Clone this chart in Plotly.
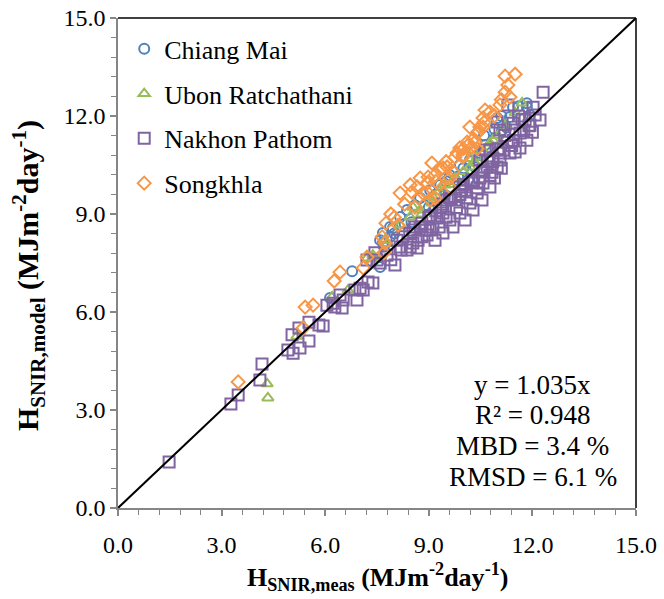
import plotly.graph_objects as go

# Measured vs. modelled daily surface near-infrared irradiation (MJ m-2 day-1)
chiang_mai_meas = [6.14, 6.78, 7.59, 7.36, 7.67, 7.88, 8.17, 8.37, 8.60, 8.75, 7.59, 7.96,
                   7.88, 7.67, 11.44, 11.84, 11.35, 11.12, 10.92, 10.48, 10.34, 10.14,
                   10.98, 11.84, 11.93, 9.04, 9.33, 9.61, 9.90, 9.47, 10.19, 9.76, 10.63, 8.89,
                   9.20, 9.50, 9.70, 10.00, 10.30, 10.60, 10.90, 11.10, 11.60, 8.30, 8.00,
                   7.70, 9.00, 10.50, 8.50, 9.85, 10.75, 11.25]
chiang_mai_model = [6.43, 7.25, 7.38, 7.53, 8.42, 8.60, 8.91, 9.12, 9.27, 9.49, 8.20, 8.57,
                    8.30, 8.11, 12.27, 12.27, 11.97, 11.57, 11.33, 10.87, 10.44, 10.04,
                    11.94, 12.39, 12.03, 9.73, 9.89, 10.19, 10.50, 9.58, 10.65, 10.04, 11.11, 9.27,
                    9.60, 10.00, 10.30, 10.40, 10.90, 11.40, 11.60, 12.00, 12.30, 8.70, 8.40,
                    8.00, 9.20, 10.80, 8.75, 10.15, 11.05, 11.65]

ubon_meas = [4.32, 4.34, 5.18, 6.66, 6.20, 7.38, 7.21, 7.38, 8.46, 8.75, 9.09, 8.54, 9.12,
             10.34, 10.77, 11.70, 10.86, 10.19, 10.40, 9.76, 9.47, 8.17, 7.73, 11.21,
             9.30, 9.60, 10.00, 10.60, 11.00, 11.50, 8.80, 7.80, 10.20]
ubon_model = [3.80, 3.37, 5.26, 6.67, 6.46, 7.65, 7.65, 7.74, 8.91, 9.12, 9.34, 9.21, 9.52,
              10.56, 11.17, 12.40, 11.26, 10.44, 10.74, 10.10, 9.89, 8.66, 8.20, 11.72,
              9.70, 9.90, 10.30, 10.90, 11.40, 12.10, 9.00, 8.10, 10.70]

nakhon_meas = [1.48, 3.27, 3.48, 4.11, 4.17, 4.92, 5.07, 5.04, 5.24, 5.27, 5.53, 5.53, 5.82,
               5.94, 6.05, 6.28, 6.49, 6.43, 6.92, 6.86, 7.01, 7.24, 7.38, 7.44, 7.21, 7.59,
               6.23, 6.52, 7.10, 7.50, 8.02, 7.79, 8.17, 8.46, 8.66, 8.25, 8.54, 8.80, 8.37,
               8.54, 8.69, 8.95, 9.12, 9.24, 9.41, 9.53, 8.08, 9.04, 9.61, 9.90, 10.19, 10.40,
               10.57, 10.77, 10.98, 10.86, 11.06, 9.18, 9.41, 9.70, 10.05, 10.28, 10.54, 10.77,
               12.31, 11.29, 12.02, 10.98, 11.06, 11.44, 11.79, 11.64, 11.27, 10.77, 11.35,
               11.06, 10.69, 10.83, 10.48, 10.25, 9.90, 9.76, 10.05, 10.48, 10.63, 11.50,
               11.93, 11.84, 11.64, 12.22, 12.08,
               8.80, 9.00, 9.20, 9.30, 9.50, 9.60, 9.80, 9.90, 10.00, 10.10, 10.30, 10.40,
               10.60, 10.70, 10.90, 11.00, 11.10, 11.20, 11.40, 11.50, 11.70, 11.90, 12.00,
               11.60, 8.60, 8.90, 9.40, 7.90, 8.20,
               8.45, 8.75, 9.05, 9.35, 9.65, 9.95, 10.25, 10.55, 10.85, 11.15, 11.45, 11.75]
nakhon_model = [1.41, 3.18, 3.46, 3.92, 4.41, 4.84, 4.74, 5.30, 5.51, 4.90, 5.11, 5.69, 5.60,
                5.57, 6.21, 6.15, 6.12, 6.52, 6.37, 6.67, 6.73, 6.92, 6.89, 7.81, 7.59, 7.50,
                6.27, 6.37, 6.67, 7.59, 7.44, 7.74, 7.99, 7.99, 7.96, 8.30, 8.51, 8.72, 7.90,
                8.11, 8.20, 8.36, 8.60, 8.88, 9.03, 9.43, 8.20, 8.51, 8.82, 9.03, 9.34, 9.64,
                9.95, 10.19, 10.44, 10.71, 10.87, 8.20, 8.42, 8.60, 8.82, 9.12, 9.43, 9.83,
                12.73, 12.34, 12.27, 11.82, 11.57, 11.78, 11.88, 11.48, 11.20, 10.96, 10.87,
                10.65, 10.44, 10.28, 10.10, 9.95, 9.83, 9.43, 9.73, 10.65, 10.96, 11.57,
                11.72, 11.26, 11.02, 11.88, 12.03,
                8.30, 8.90, 9.10, 8.60, 8.90, 9.50, 9.20, 9.60, 9.90, 9.50, 10.00, 9.80,
                10.30, 10.60, 10.10, 11.00, 10.40, 11.40, 11.10, 10.90, 11.90, 11.70, 11.50,
                12.00, 8.60, 8.50, 9.30, 7.60, 7.90,
                8.40, 8.60, 8.95, 9.20, 9.45, 9.70, 10.05, 10.35, 10.60, 10.95, 11.25, 11.55]

songkhla_meas = [3.48, 5.36, 5.42, 5.65, 6.26, 6.43, 7.10, 7.21, 7.65, 7.73, 7.76, 8.11, 8.60,
                 7.70, 8.17, 8.46, 8.66, 8.83, 9.04, 9.18, 8.95, 8.75, 8.51, 9.09, 8.98, 9.18,
                 9.33, 9.53, 9.61, 9.82, 9.99, 10.14, 10.34, 10.43, 10.57, 10.19, 8.95, 9.61,
                 11.21, 11.50, 11.29, 11.21, 11.35, 11.06, 10.63, 10.77, 10.57, 10.48, 10.40,
                 10.11, 10.25, 9.90, 9.76, 9.99, 9.41,
                 8.30, 8.70, 9.20, 9.50, 9.70, 10.00, 10.30, 10.60, 10.90, 11.10, 8.00, 7.90,
                 10.40, 9.30]
songkhla_model = [3.86, 5.51, 6.15, 6.21, 6.95, 7.22, 7.35, 7.68, 8.30, 8.11, 8.72, 8.66, 9.21,
                  7.81, 9.64, 9.89, 9.83, 9.64, 9.43, 9.49, 9.95, 10.10, 9.67, 10.56, 10.13, 10.19,
                  10.35, 10.44, 10.10, 10.87, 10.74, 11.11, 11.20, 11.51, 11.66, 11.66, 9.67, 9.83,
                  13.22, 13.28, 12.95, 12.73, 12.58, 12.34, 12.18, 12.12, 11.94, 11.66, 11.48,
                  11.20, 11.05, 11.02, 10.74, 10.81, 10.41,
                  9.30, 9.50, 10.00, 10.60, 10.30, 11.00, 11.30, 11.80, 12.00, 12.50, 8.90, 9.00,
                  11.00, 9.90]

# 1:1 reference line
ref_line = [0.0, 15.0]

tick_vals = [0, 3, 6, 9, 12, 15]
tick_text = ["0.0", "3.0", "6.0", "9.0", "12.0", "15.0"]

stats_lines = ["y = 1.035x", "R² = 0.948", "MBD = 3.4 %", "RMSD = 6.1 %"]

FONT = "Liberation Serif"

fig = go.Figure()

series = [
    ("Chiang Mai", chiang_mai_meas, chiang_mai_model, "circle-open", "#4F81BD", 10),
    ("Ubon Ratchathani", ubon_meas, ubon_model, "triangle-up-open", "#9BBB59", 10),
    ("Nakhon Pathom", nakhon_meas, nakhon_model, "square-open", "#8064A2", 11),
    ("Songkhla", songkhla_meas, songkhla_model, "diamond-open", "#F79646", 10),
]
for name, xs, ys, sym, col, size in series:
    fig.add_trace(go.Scatter(
        x=xs, y=ys, mode="markers", name=name, legendgroup=name,
        marker=dict(symbol=sym, size=size, color=col, line=dict(width=2, color=col)),
    ))

fig.add_trace(go.Scatter(
    x=ref_line, y=ref_line, mode="lines", showlegend=False,
    line=dict(color="black", width=2), hoverinfo="skip",
))

axis_common = dict(
    range=[0, 15], tickvals=tick_vals, ticktext=tick_text,
    ticks="outside", ticklen=6, tickwidth=1.5, tickcolor="#868686",
    showline=True, linecolor="#868686", linewidth=1.5,
    showgrid=False, zeroline=False, automargin=False,
    tickfont=dict(family=FONT, size=24, color="black"),
    minor=dict(dtick=0.6, tick0=0, ticks="outside", ticklen=5, tickwidth=1.2,
               tickcolor="#868686", showgrid=False),
)

fig.update_layout(
    width=664, height=599,
    margin=dict(l=118, r=28, t=18, b=91),
    paper_bgcolor="white", plot_bgcolor="white",
    font=dict(family=FONT, color="black"),
    xaxis=dict(**axis_common, ticklabelstandoff=8),
    yaxis=axis_common,
    legend=dict(x=0.012, y=0.985, xanchor="left", yanchor="top",
                bgcolor="rgba(0,0,0,0)", font=dict(family=FONT, size=26),
                tracegroupgap=8, itemwidth=30),
    showlegend=True,
)

# black frame on top and right edges
fig.add_shape(type="line", xref="paper", yref="paper", x0=0, x1=1, y0=1, y1=1,
              line=dict(color="black", width=1.5))
fig.add_shape(type="line", xref="paper", yref="paper", x0=1, x1=1, y0=0, y1=1,
              line=dict(color="black", width=1.5))

# axis titles
fig.add_annotation(
    xref="paper", yref="paper", x=0.5, y=-0.14, xanchor="center", yanchor="middle",
    text="<b>H<sub>SNIR,meas</sub> (MJm<sup>-2</sup>day<sup>-1</sup>)</b>",
    showarrow=False, font=dict(family=FONT, size=26, color="black"),
)
fig.add_annotation(
    xref="paper", yref="paper", x=-0.174, y=0.475, xanchor="center", yanchor="middle",
    textangle=-90,
    text="<b>H<sub>SNIR,model</sub> (MJm<sup>-2</sup>day<sup>-1</sup>)</b>",
    showarrow=False, font=dict(family=FONT, size=30, color="black"),
)

# regression statistics, one line each
stats_y = [0.251, 0.190, 0.126, 0.063]
for line_text, ypos in zip(stats_lines, stats_y):
    fig.add_annotation(
        xref="paper", yref="paper", x=0.801, y=ypos, xanchor="center", yanchor="middle",
        text=line_text, showarrow=False,
        font=dict(family=FONT, size=27, color="black"),
    )

fig.write_html("out.html")
